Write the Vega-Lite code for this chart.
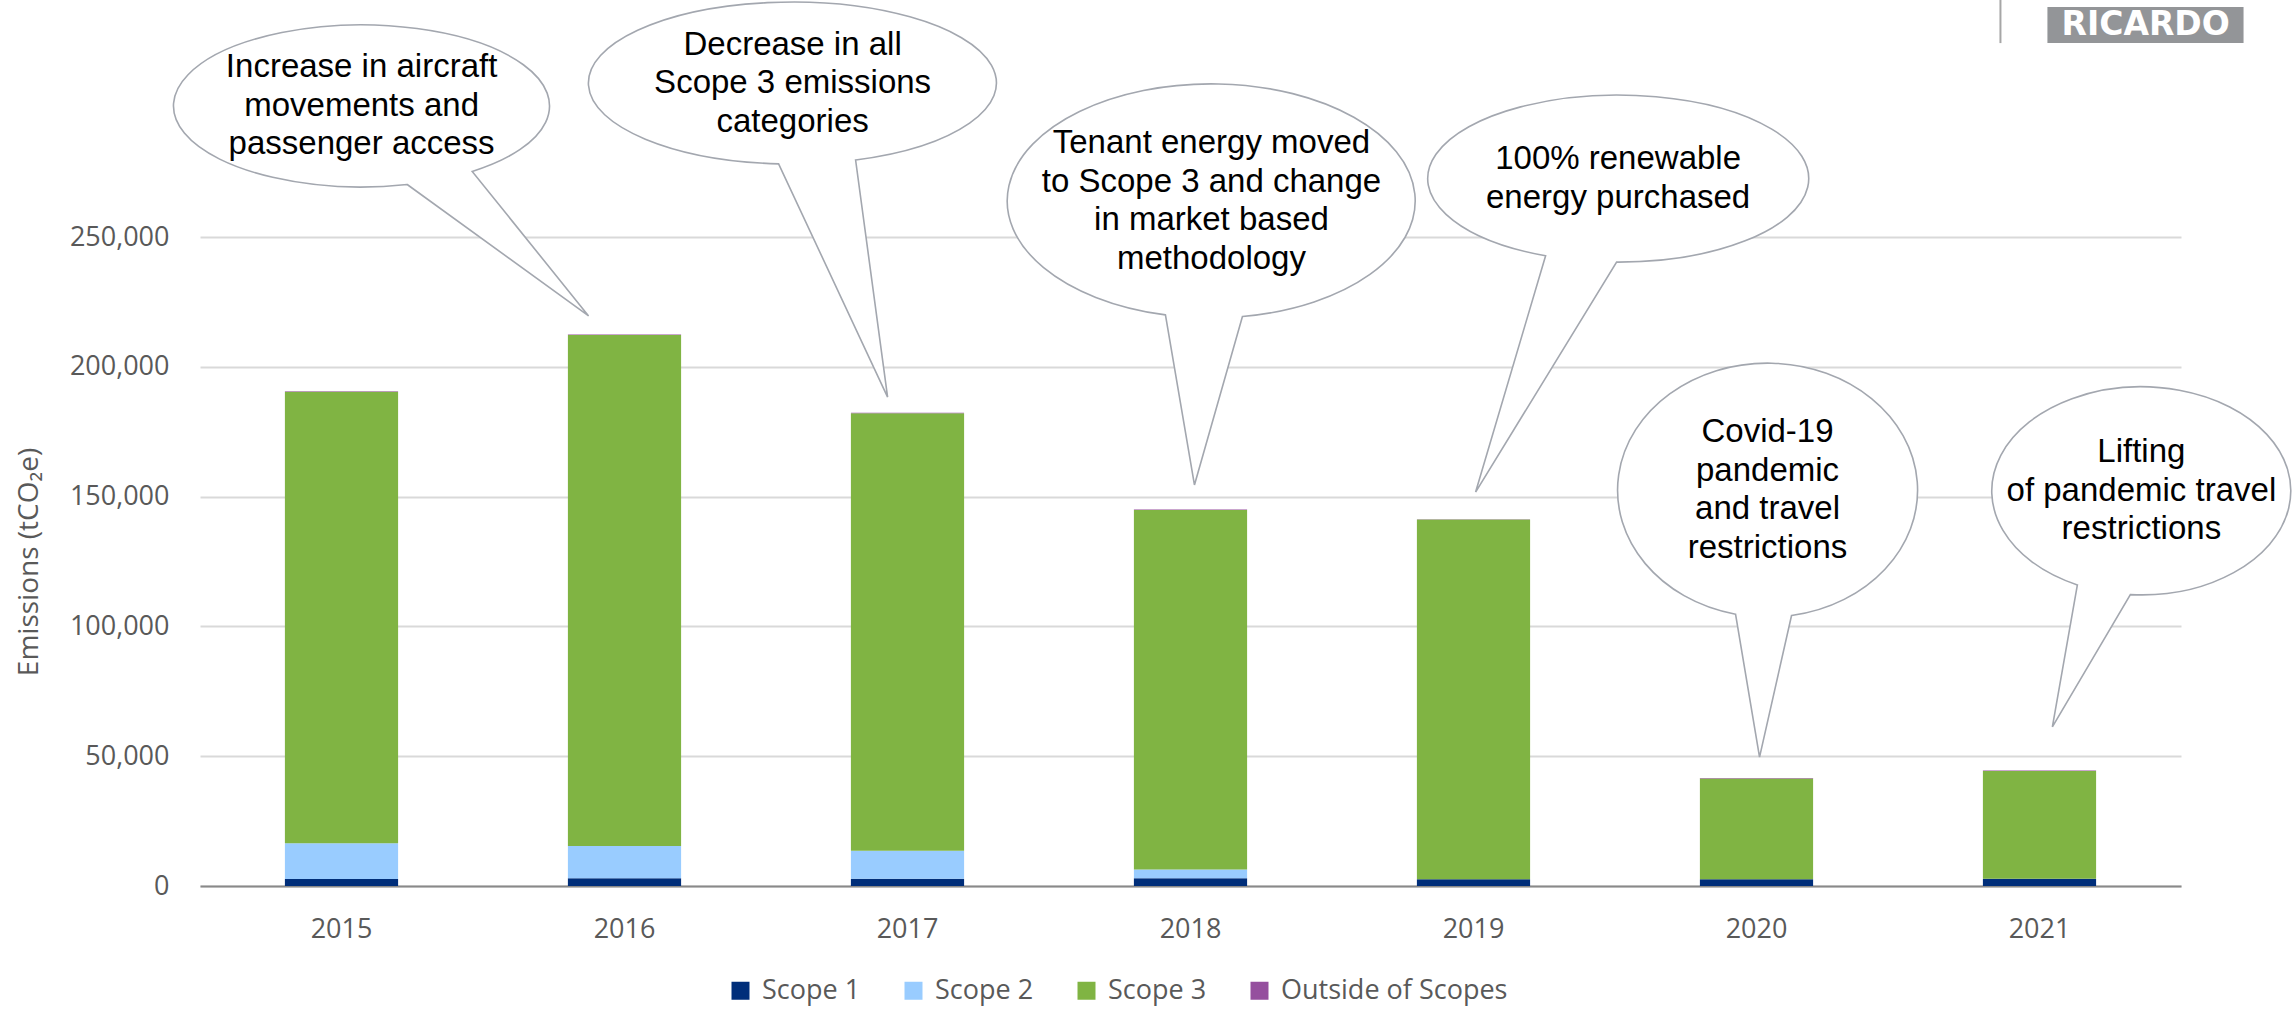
{
  "$schema": "https://vega.github.io/schema/vega-lite/v6.json",
  "width": 1981,
  "height": 649,
  "autosize": {"type": "none"},
  "padding": {"left": 200, "top": 237, "right": 111, "bottom": 123},
  "background": "white",
  "datasets": {
    "emissions": [
      {"year": "2015", "series": "Scope 1", "value": 2700},
      {"year": "2015", "series": "Scope 2", "value": 13800},
      {"year": "2015", "series": "Scope 3", "value": 173920},
      {"year": "2015", "series": "Outside of Scopes", "value": 150},
      {"year": "2016", "series": "Scope 1", "value": 3000},
      {"year": "2016", "series": "Scope 2", "value": 12400},
      {"year": "2016", "series": "Scope 3", "value": 196850},
      {"year": "2016", "series": "Outside of Scopes", "value": 150},
      {"year": "2017", "series": "Scope 1", "value": 2800},
      {"year": "2017", "series": "Scope 2", "value": 10800},
      {"year": "2017", "series": "Scope 3", "value": 168550},
      {"year": "2017", "series": "Outside of Scopes", "value": 150},
      {"year": "2018", "series": "Scope 1", "value": 2950},
      {"year": "2018", "series": "Scope 2", "value": 3450},
      {"year": "2018", "series": "Scope 3", "value": 138450},
      {"year": "2018", "series": "Outside of Scopes", "value": 150},
      {"year": "2019", "series": "Scope 1", "value": 2560},
      {"year": "2019", "series": "Scope 2", "value": 0},
      {"year": "2019", "series": "Scope 3", "value": 138590},
      {"year": "2019", "series": "Outside of Scopes", "value": 150},
      {"year": "2020", "series": "Scope 1", "value": 2560},
      {"year": "2020", "series": "Scope 2", "value": 0},
      {"year": "2020", "series": "Scope 3", "value": 38890},
      {"year": "2020", "series": "Outside of Scopes", "value": 150},
      {"year": "2021", "series": "Scope 1", "value": 2800},
      {"year": "2021", "series": "Scope 2", "value": 0},
      {"year": "2021", "series": "Scope 3", "value": 41500},
      {"year": "2021", "series": "Outside of Scopes", "value": 200}
    ],
    "callouts": [
      {"id": "c1", "xpos": 2015.071, "ypos": 300500, "label": "Increase in aircraft\nmovements and\npassenger access"},
      {"id": "c2", "xpos": 2016.594, "ypos": 309300, "label": "Decrease in all\nScope 3 emissions\ncategories"},
      {"id": "c3", "xpos": 2018.074, "ypos": 263900, "label": "Tenant energy moved\nto Scope 3 and change\nin market based\nmethodology"},
      {"id": "c4", "xpos": 2019.511, "ypos": 272500, "label": "100% renewable\nenergy purchased"},
      {"id": "c5", "xpos": 2020.039, "ypos": 152500, "label": "Covid-19\npandemic\nand travel\nrestrictions"},
      {"id": "c6", "xpos": 2021.36, "ypos": 152200, "label": "Lifting\nof pandemic travel\nrestrictions"}
    ]
  },
  "layer": [
    {
      "data": {"name": "emissions"},
      "transform": [
        {"calculate": "indexof(['Scope 1','Scope 2','Scope 3','Outside of Scopes'], datum.series)", "as": "stackOrder"}
      ],
      "mark": {"type": "bar"},
      "encoding": {
        "x": {
          "field": "year", "type": "nominal", "title": null,
          "scale": {"paddingInner": 0.6, "paddingOuter": 0.3},
          "axis": {"labelAngle": 0, "labelFont": "Open Sans", "labelFontSize": 27, "labelColor": "#595959", "labelPadding": 30, "ticks": false, "tickSize": 0, "domainColor": "#898989", "domainWidth": 2, "grid": false}
        },
        "y": {
          "field": "value", "type": "quantitative", "stack": "zero",
          "title": "Emissions (tCO₂e)",
          "scale": {"domain": [0, 250000], "nice": false},
          "axis": {"values": [0, 50000, 100000, 150000, 200000, 250000], "format": ",d"}
        },
        "color": {
          "field": "series", "type": "nominal",
          "scale": {"domain": ["Scope 1", "Scope 2", "Scope 3", "Outside of Scopes"], "range": ["#002E7A", "#99CCFF", "#80B443", "#954F9E"]},
          "legend": {"orient": "none", "legendX": 527, "legendY": 740, "direction": "horizontal", "title": null, "symbolType": "square", "symbolSize": 324, "symbolStrokeWidth": 0, "labelFont": "Open Sans", "labelFontSize": 27, "labelColor": "#595959", "labelLimit": 500, "columnPadding": 39, "labelOffset": 8, "padding": 0}
        },
        "order": {"field": "stackOrder", "type": "quantitative", "sort": "ascending"}
      }
    },
    {
      "data": {"name": "callouts"},
      "mark": {"type": "point", "filled": true, "fill": "white", "stroke": "#A3A7AF", "strokeWidth": 1.6, "size": 40000, "opacity": 1},
      "encoding": {
        "x": {"field": "xpos", "type": "quantitative", "scale": {"domain": [2014.5, 2021.5], "nice": false, "zero": false}, "axis": null},
        "y": {"field": "ypos", "type": "quantitative", "title": "Emissions (tCO₂e)", "axis": {"values": [0, 50000, 100000, 150000, 200000, 250000], "format": ",d"}},
        "shape": {
          "field": "id", "type": "nominal", "legend": null,
          "scale": {
            "domain": ["c1", "c2", "c3", "c4", "c5", "c6"],
            "range": [
              "M 0.456 0.786 L 2.27 2.10 L 1.106 0.655 A 1.88 0.81 0 1 0 0.456 0.786 Z",
              "M -0.14 0.808 L 0.95 3.14 L 0.63 0.77 A 2.04 0.81 0 1 0 -0.14 0.808 Z",
              "M -0.46 1.14 L -0.17 2.84 L 0.31 1.156 A 2.04 1.17 0 1 0 -0.46 1.14 Z",
              "M -0.725 0.772 L -1.425 3.135 L -0.015 0.835 A 1.905 0.835 0 1 0 -0.725 0.772 Z",
              "M -0.32 1.241 L -0.08 2.67 L 0.24 1.254 A 1.5 1.27 0 1 0 -0.32 1.241 Z",
              "M -0.64 0.94 L -0.89 2.36 L -0.11 1.037 A 1.495 1.04 0 1 0 -0.64 0.94 Z"
            ]
          }
        }
      }
    },
    {
      "data": {"name": "callouts"},
      "transform": [{"filter": {"field": "id", "oneOf": ["c1", "c2", "c6"]}}],
      "mark": {"type": "text", "font": "Liberation Sans", "fontSize": 33, "lineHeight": 38.5, "lineBreak": "\n", "align": "center", "baseline": "middle", "color": "#000000", "dy": -38.5},
      "encoding": {
        "x": {"field": "xpos", "type": "quantitative", "scale": {"domain": [2014.5, 2021.5], "nice": false, "zero": false}, "axis": null},
        "y": {"field": "ypos", "type": "quantitative", "title": "Emissions (tCO₂e)", "axis": {"values": [0, 50000, 100000, 150000, 200000, 250000], "format": ",d"}},
        "text": {"field": "label", "type": "nominal"}
      }
    },
    {
      "data": {"name": "callouts"},
      "transform": [{"filter": {"field": "id", "oneOf": ["c3", "c5"]}}],
      "mark": {"type": "text", "font": "Liberation Sans", "fontSize": 33, "lineHeight": 38.5, "lineBreak": "\n", "align": "center", "baseline": "middle", "color": "#000000", "dy": -57.75},
      "encoding": {
        "x": {"field": "xpos", "type": "quantitative", "scale": {"domain": [2014.5, 2021.5], "nice": false, "zero": false}, "axis": null},
        "y": {"field": "ypos", "type": "quantitative", "title": "Emissions (tCO₂e)", "axis": {"values": [0, 50000, 100000, 150000, 200000, 250000], "format": ",d"}},
        "text": {"field": "label", "type": "nominal"}
      }
    },
    {
      "data": {"name": "callouts"},
      "transform": [{"filter": {"field": "id", "oneOf": ["c4"]}}],
      "mark": {"type": "text", "font": "Liberation Sans", "fontSize": 33, "lineHeight": 38.5, "lineBreak": "\n", "align": "center", "baseline": "middle", "color": "#000000", "dy": -19.25},
      "encoding": {
        "x": {"field": "xpos", "type": "quantitative", "scale": {"domain": [2014.5, 2021.5], "nice": false, "zero": false}, "axis": null},
        "y": {"field": "ypos", "type": "quantitative", "title": "Emissions (tCO₂e)", "axis": {"values": [0, 50000, 100000, 150000, 200000, 250000], "format": ",d"}},
        "text": {"field": "label", "type": "nominal"}
      }
    },
    {
      "data": {"values": [{"brand": "RICARDO"}]},
      "mark": {"type": "rule", "color": "#A6A6A6", "strokeWidth": 2},
      "encoding": {
        "x": {"datum": 2020.862, "type": "quantitative", "scale": {"domain": [2014.5, 2021.5], "nice": false, "zero": false}, "axis": null},
        "y": {"datum": 341300, "type": "quantitative", "title": "Emissions (tCO₂e)", "axis": {"values": [0, 50000, 100000, 150000, 200000, 250000], "format": ",d"}},
        "y2": {"datum": 324700}
      }
    },
    {
      "data": {"values": [{"brand": "RICARDO"}]},
      "mark": {"type": "rect", "color": "#939598"},
      "encoding": {
        "x": {"datum": 2021.028, "type": "quantitative", "scale": {"domain": [2014.5, 2021.5], "nice": false, "zero": false}, "axis": null},
        "x2": {"datum": 2021.721},
        "y": {"datum": 338591, "type": "quantitative", "title": "Emissions (tCO₂e)", "axis": {"values": [0, 50000, 100000, 150000, 200000, 250000], "format": ",d"}},
        "y2": {"datum": 324724}
      }
    },
    {
      "data": {"values": [{"brand": "RICARDO"}]},
      "mark": {"type": "text", "font": "DejaVu Sans", "fontWeight": "bold", "fontSize": 33, "color": "white", "align": "center", "baseline": "middle"},
      "encoding": {
        "x": {"datum": 2021.375, "type": "quantitative", "scale": {"domain": [2014.5, 2021.5], "nice": false, "zero": false}, "axis": null},
        "y": {"datum": 331657, "type": "quantitative", "title": "Emissions (tCO₂e)", "axis": {"values": [0, 50000, 100000, 150000, 200000, 250000], "format": ",d"}},
        "text": {"field": "brand", "type": "nominal"}
      }
    }
  ],
  "resolve": {"scale": {"x": "independent"}},
  "config": {
    "view": {"stroke": null},
    "font": "Open Sans",
    "axisY": {"labelFont": "Open Sans", "labelFontSize": 27, "labelColor": "#595959", "labelPadding": 31, "ticks": false, "tickSize": 0, "domain": false, "grid": true, "gridColor": "#D9D9D9", "gridWidth": 2, "titleFont": "Open Sans", "titleFontSize": 28, "titleFontWeight": "normal", "titleColor": "#595959", "titlePadding": 26}
  }
}
